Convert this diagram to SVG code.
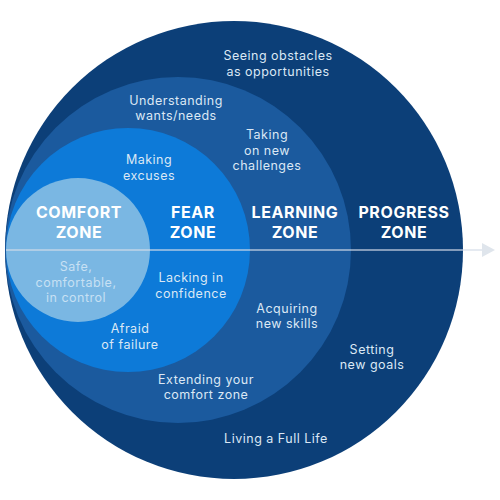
<svg xmlns="http://www.w3.org/2000/svg" width="500" height="500" viewBox="0 0 500 500">
<style>
.h{font-family:Inter,"Open Sans",sans-serif;font-weight:700;font-size:16px;letter-spacing:0.6px;fill:#ffffff;text-anchor:middle}
.t{font-family:Inter,"Open Sans",sans-serif;font-weight:400;font-size:12.5px;letter-spacing:0.5px;fill:#dbe8f5;text-anchor:middle}
.s{fill:#c7e0f3}
</style>
<rect width="500" height="500" fill="#ffffff"/>
<g id="progress"><circle cx="234" cy="250" r="229" fill="#0c3f78"/></g>
<g id="learning"><circle cx="178" cy="250" r="173" fill="#1b5a9e"/></g>
<g id="fear"><circle cx="128" cy="250" r="122" fill="#0d7ad8"/></g>
<g id="comfort"><circle cx="78" cy="250" r="72" fill="#7ab7e3"/></g>
<g id="connectors">
<line x1="6" y1="250" x2="482" y2="250" stroke="#d4dde8" stroke-width="1.5" opacity="0.8"/>
<polygon points="482,243 495,250 482,257" fill="#dfe5ec"/>
</g>
<g id="labels">
<text class="h" x="79" y="218">COMFORT</text><text class="h" x="79" y="238">ZONE</text>
<text class="h" x="193" y="218">FEAR</text><text class="h" x="193" y="238">ZONE</text>
<text class="h" x="295" y="218">LEARNING</text><text class="h" x="295" y="238">ZONE</text>
<text class="h" x="404" y="218">PROGRESS</text><text class="h" x="404" y="238">ZONE</text>
<text class="t" x="278" y="60">Seeing obstacles</text><text class="t" x="278" y="75.5">as opportunities</text>
<text class="t" x="176" y="104.5">Understanding</text><text class="t" x="176" y="120">wants/needs</text>
<text class="t" x="267" y="139">Taking</text><text class="t" x="267" y="154.5">on new</text><text class="t" x="267" y="170">challenges</text>
<text class="t" x="149" y="164">Making</text><text class="t" x="149" y="179.5">excuses</text>
<text class="t s" x="76" y="271">Safe,</text><text class="t s" x="76" y="286.5">comfortable,</text><text class="t s" x="76" y="302">in control</text>
<text class="t" x="191" y="282">Lacking in</text><text class="t" x="191" y="297.5">confidence</text>
<text class="t" x="287" y="312.5">Acquiring</text><text class="t" x="287" y="328">new skills</text>
<text class="t" x="130" y="333">Afraid</text><text class="t" x="130" y="348.5">of failure</text>
<text class="t" x="372" y="353.5">Setting</text><text class="t" x="372" y="369">new goals</text>
<text class="t" x="206" y="383.5">Extending your</text><text class="t" x="206" y="399">comfort zone</text>
<text class="t" x="276" y="443">Living a Full Life</text>
</g>
</svg>
